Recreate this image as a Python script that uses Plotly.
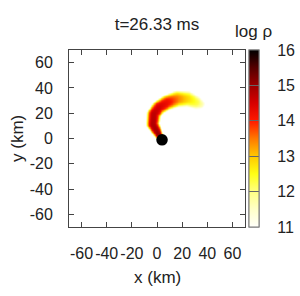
import numpy as np
import plotly.graph_objects as go

# ---- data ----
# centerline of the tidal stream (km), peak log rho along it, half-width (km)
tail_x = [1.0, -3.5, -2.7, 1.3, 8.0, 16.0, 24.0, 30.6, 34.0]
tail_y = [3.5, 11.5, 19.5, 24.8, 28.8, 31.5, 31.5, 28.8, 27.5]
tail_peak = [15.0, 14.8, 14.7, 14.5, 14.2, 13.4, 12.8, 12.3, 11.8]
tail_halfw = [3.8, 5.4, 5.9, 6.1, 6.4, 6.9, 6.5, 5.5, 4.0]

bh_x, bh_y, bh_r = 4.0, -1.0, 4.6   # black hole (km)

xy_ticks = [-60, -40, -20, 0, 20, 40, 60]
xy_ticktext = ["-60", "-40", "-20", "0", "20", "40", "60"]
cb_ticks = [11, 12, 13, 14, 15, 16]
cb_inner_ticks = [12, 13, 14, 15]
zmin, zmax = 11, 16

# ---- build density field from the centerline description ----
gx = np.arange(-20, 45.01, 0.5)
gy = np.arange(-10, 45.01, 0.5)
GX, GY = np.meshgrid(gx, gy)
tx, ty = np.array(tail_x), np.array(tail_y)
tp, tw = np.array(tail_peak), np.array(tail_halfw)
seg = np.concatenate([[0], np.cumsum(np.hypot(np.diff(tx), np.diff(ty)))])
s = np.linspace(0, seg[-1], 400)
sx, sy = np.interp(s, seg, tx), np.interp(s, seg, ty)
sp, sw = np.interp(s, seg, tp), np.interp(s, seg, tw)
best = np.full(GX.shape, -np.inf)
for i in range(len(s)):
    d = np.hypot(GX - sx[i], GY - sy[i]) / sw[i]
    v = sp[i] - (sp[i] - 10.7) * d ** 3
    best = np.maximum(best, v)
Z = np.where(best >= 11.0, best, np.nan)

colorscale = [
    [0.0, "rgb(255,255,250)"],
    [0.1, "rgb(255,255,200)"],
    [0.2, "rgb(255,255,130)"],
    [0.3, "rgb(255,255,20)"],
    [0.4, "rgb(255,200,0)"],
    [0.5, "rgb(255,120,0)"],
    [0.6, "rgb(255,25,0)"],
    [0.7, "rgb(215,0,0)"],
    [0.8, "rgb(155,0,0)"],
    [0.9, "rgb(85,0,0)"],
    [1.0, "rgb(0,0,0)"],
]

FONT = "Liberation Sans"
fig = go.Figure()
fig.add_trace(go.Heatmap(
    x=gx, y=gy, z=Z, zmin=zmin, zmax=zmax, colorscale=colorscale,
    zsmooth="best", hoverinfo="skip",
    colorbar=dict(
        x=1.0227, xanchor="left", xref="paper", xpad=0, ypad=0,
        y=0.5, yanchor="middle", len=1, lenmode="fraction", thickness=10,
        tickvals=cb_ticks, ticks="outside", ticklen=15,
        tickcolor="rgba(0,0,0,0)", outlinecolor="#777", outlinewidth=1,
        tickfont=dict(family=FONT, size=16, color="#222"),
    ),
))
# second colour bar on top to draw the inner tick lines
fig.add_trace(go.Scatter(
    x=[None], y=[None], mode="markers", hoverinfo="skip", showlegend=False,
    marker=dict(
        color=[zmin], cmin=zmin, cmax=zmax, colorscale=colorscale, showscale=True,
        colorbar=dict(
            x=1.0227, xanchor="left", xref="paper", xpad=0, ypad=0,
            y=0.5, yanchor="middle", len=1, lenmode="fraction", thickness=10,
            tickvals=cb_inner_ticks, ticks="inside", ticklen=10,
            tickcolor="#666", showticklabels=False,
            outlinecolor="#777", outlinewidth=1,
        ),
    ),
))

fig.add_shape(type="circle", xref="x", yref="y",
              x0=bh_x - bh_r, x1=bh_x + bh_r, y0=bh_y - bh_r, y1=bh_y + bh_r,
              fillcolor="black", line=dict(color="black", width=0))

axis_common = dict(
    range=[-70, 70], tickvals=xy_ticks, ticktext=xy_ticktext, tickangle=0,
    ticks="inside", ticklen=5, automargin=False,
    tickcolor="#444", showline=True, linecolor="#444", linewidth=1,
    mirror="ticks", showgrid=False, zeroline=False,
    tickfont=dict(family=FONT, size=16, color="#222"),
)
fig.update_xaxes(**axis_common, ticklabelstandoff=12)
fig.update_yaxes(**axis_common, ticklabelstandoff=12)

fig.update_layout(
    width=300, height=296,
    margin=dict(l=69, r=55, t=50, b=69, autoexpand=False),
    paper_bgcolor="white", plot_bgcolor="white",
    font=dict(family=FONT, size=16, color="#222"),
    title=dict(text="t=26.33 ms", x=0.5, xref="paper", xanchor="center",
               y=1 - 24 / 296, yref="container", yanchor="middle",
               font=dict(family=FONT, size=17, color="#222")),
    annotations=[
        dict(text="x (km)", xref="paper", yref="paper", x=0.5, y=-0.2825,
             showarrow=False, xanchor="center", yanchor="middle",
             font=dict(family=FONT, size=17, color="#222")),
        dict(text="y (km)", xref="paper", yref="paper", x=-0.2926, y=0.5,
             showarrow=False, xanchor="center", yanchor="middle", textangle=-90,
             font=dict(family=FONT, size=17, color="#222")),
        dict(text="log ρ", xref="paper", yref="paper", x=(254 - 69) / 176,
             y=(227 - 31) / 177, showarrow=False, xanchor="center",
             yanchor="middle", font=dict(family=FONT, size=17, color="#222")),
    ],
)

fig.write_html("out.html", config={"displayModeBar": False},
               post_script="document.body.style.margin='0';document.body.style.overflow='hidden';")
